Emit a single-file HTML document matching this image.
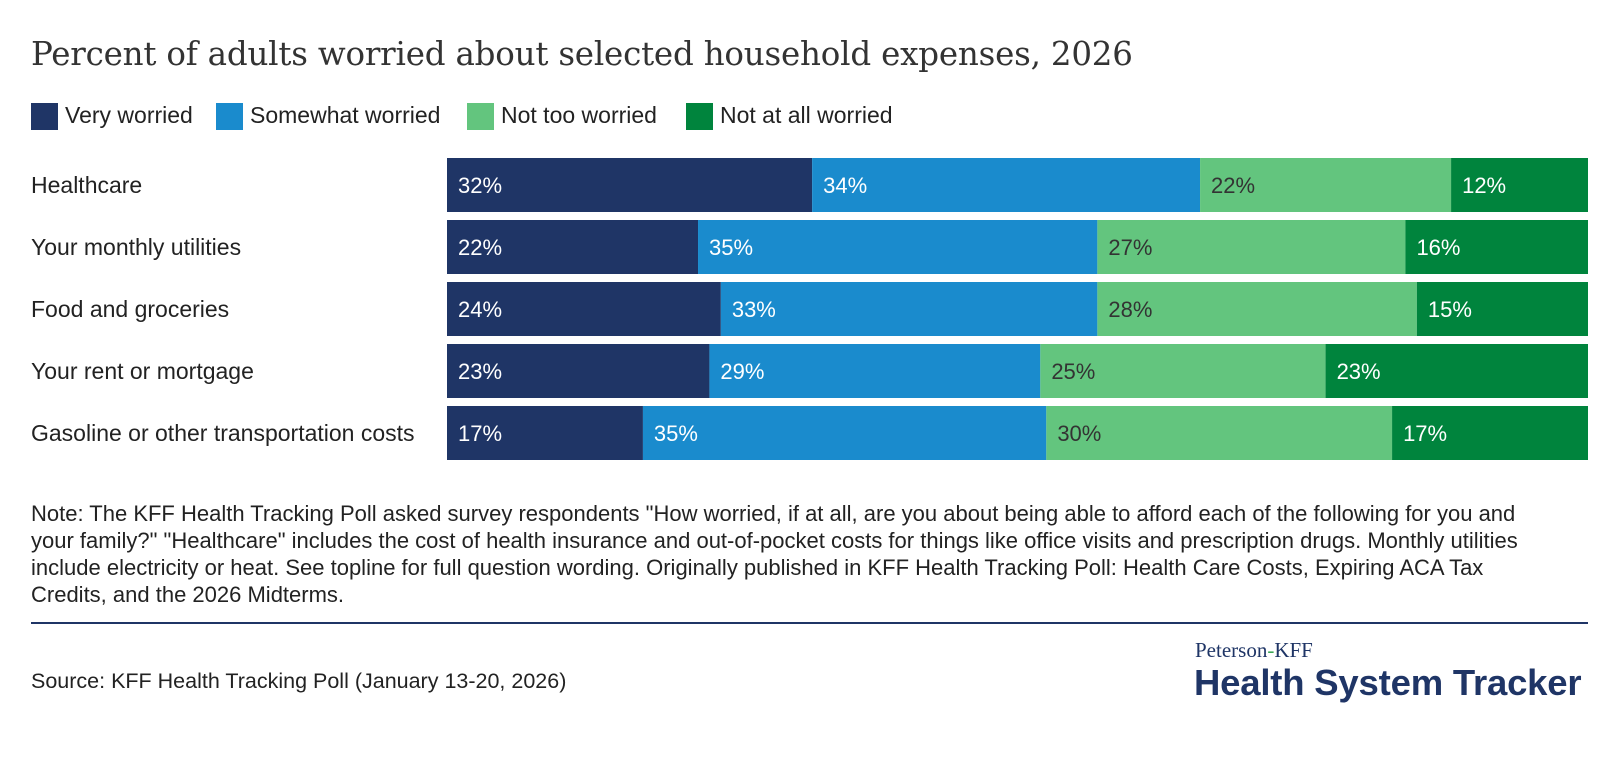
<!DOCTYPE html>
<html><head><meta charset="utf-8">
<style>
body{margin:0;width:1620px;height:762px;background:#fff;font-family:"Liberation Sans",sans-serif;overflow:hidden;position:relative;color:#222}
.t{position:absolute;white-space:nowrap}
</style></head><body>
<div class="t" style="left:31px;top:35px;font-family:'DejaVu Serif',serif;font-size:32.5px;color:#333;letter-spacing:-0.2px">Percent of adults worried about selected household expenses, 2026</div>
<div id="legend"></div>
<svg id="chart" width="1620" height="480" style="position:absolute;left:0;top:0"></svg>
<div class="t" style="left:31px;top:500px;width:1525px;white-space:normal;font-size:22px;line-height:27px;color:#222">Note: The KFF Health Tracking Poll asked survey respondents "How worried, if at all, are you about being able to afford each of the following for you and your family?" "Healthcare" includes the cost of health insurance and out-of-pocket costs for things like office visits and prescription drugs. Monthly utilities include electricity or heat. See topline for full question wording. Originally published in KFF Health Tracking Poll: Health Care Costs, Expiring ACA Tax Credits, and the 2026 Midterms.</div>
<div style="position:absolute;left:31px;top:622px;width:1557px;height:2px;background:#1f3566"></div>
<div class="t" style="left:31px;top:669px;font-size:21.5px">Source: KFF Health Tracking Poll (January 13-20, 2026)</div>
<div class="t" style="left:1195px;top:638px;font-family:'Liberation Serif',serif;font-size:21px;color:#1f3566">Peterson<span style="color:#3aa655">-</span>KFF</div>
<div class="t" style="left:1194px;top:662px;font-size:36.5px;font-weight:bold;color:#1f3566;letter-spacing:-0.2px">Health System Tracker</div>
<script>
const categories=["Healthcare","Your monthly utilities","Food and groceries","Your rent or mortgage","Gasoline or other transportation costs"];
const seriesNames=["Very worried","Somewhat worried","Not too worried","Not at all worried"];
const veryWorried=[32,22,24,23,17];
const somewhatWorried=[34,35,33,29,35];
const notTooWorried=[22,27,28,25,30];
const notAtAllWorried=[12,16,15,23,17];
const series=[veryWorried,somewhatWorried,notTooWorried,notAtAllWorried];
const colors=["#1f3566","#1a8bcd","#63c57e","#00843d"];
const textColors=["#fff","#fff","#333","#fff"];
const NS="http://www.w3.org/2000/svg";
const svg=document.getElementById('chart');
const x0=447,x1=1588,yTop=158,step=62,bh=54;
const xs=v=>x0+(x1-x0)*v;
categories.forEach((c,i)=>{
  const y=yTop+i*step;
  const lab=document.createElementNS(NS,'text');
  
  
  lab.setAttribute('x',31);lab.setAttribute('y',y+bh/2+8);
  lab.setAttribute('font-size','23');lab.setAttribute('fill','#222');
  lab.setAttribute('font-family','Liberation Sans, sans-serif');
  lab.textContent=c;svg.appendChild(lab);
  const total=series.reduce((s,a)=>s+a[i],0);
  let acc=0;
  series.forEach((arr,k)=>{
    const v=arr[i];
    const r=document.createElementNS(NS,'rect');
    
    
    const a=xs(acc/total),b=xs((acc+v)/total);
    r.setAttribute('x',a);r.setAttribute('y',y);r.setAttribute('width',b-a);r.setAttribute('height',bh);
    r.setAttribute('fill',colors[k]);svg.appendChild(r);
    const t=document.createElementNS(NS,'text');
    
    
    t.setAttribute('x',a+11);t.setAttribute('y',y+bh/2+8);
    t.setAttribute('font-size','22');t.setAttribute('fill',textColors[k]);
    t.setAttribute('font-family','Liberation Sans, sans-serif');
    t.textContent=v+'%';svg.appendChild(t);
    acc+=v;
  });
});
const lg=document.getElementById('legend');
const lx=[31,216,467,686];
seriesNames.forEach((n,k)=>{
  const sq=document.createElement('div');
  
  
  sq.style.cssText=`position:absolute;left:${lx[k]}px;top:103px;width:27px;height:27px;background:${colors[k]}`;
  lg.appendChild(sq);
  const t=document.createElement('div');
  
  
  t.className='t';
  t.style.cssText=`left:${lx[k]+34}px;top:102px;font-size:23px;color:#222`;
  t.textContent=n;lg.appendChild(t);
});
</script>
</body></html>
